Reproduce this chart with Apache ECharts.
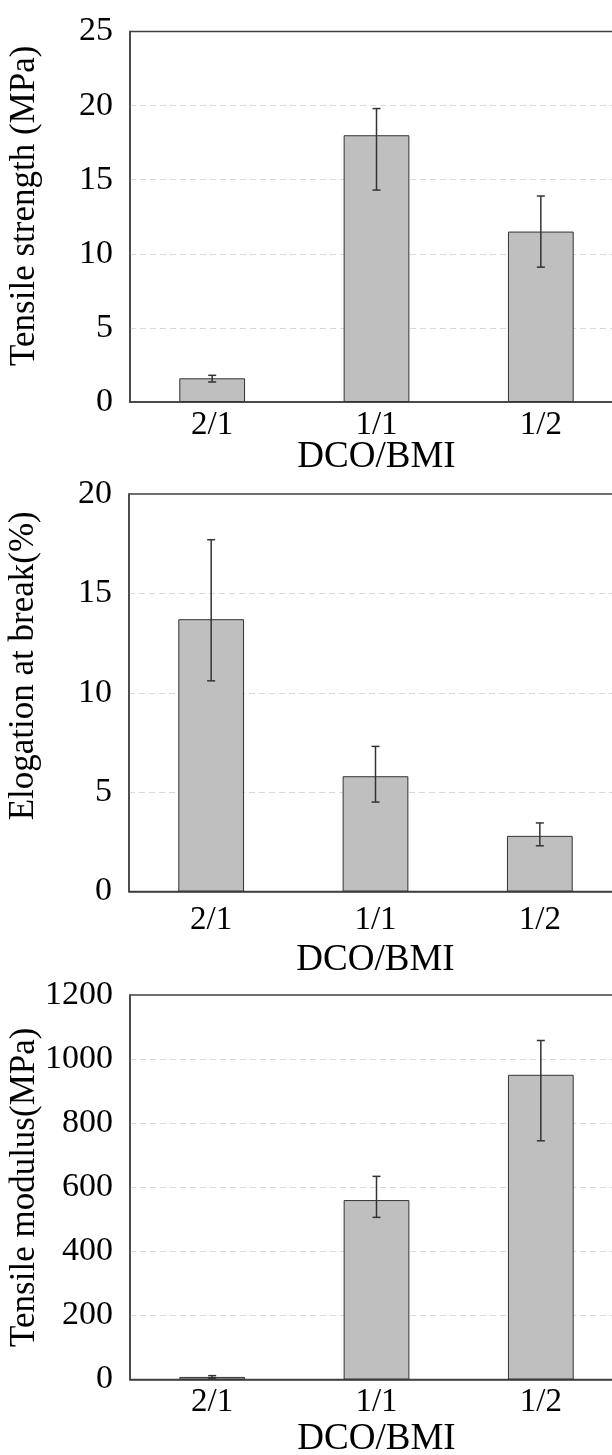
<!DOCTYPE html>
<html>
<head>
<meta charset="utf-8">
<script src="https://cdn.jsdelivr.net/npm/echarts@6/dist/echarts.min.js"></script>
<style>
  html, body { margin: 0; padding: 0; background: #fff; }
  #chart { width: 612px; height: 1455px; }
</style>
</head>
<body>
<div id="chart"></div>
<script>
// DCO/BMI ratios
const categories = ['2/1', '1/1', '1/2']

// tensile strength (MPa) with error bar ends
const strength = [1.6, 18.0, 11.5]
const strengthLow = [1.35, 14.3, 9.1]
const strengthHigh = [1.8, 19.8, 13.9]

// elongation at break (%)
const elongation = [13.7, 5.8, 2.8]
const elongationLow = [10.6, 4.5, 2.3]
const elongationHigh = [17.7, 7.3, 3.45]

// tensile modulus (MPa)
const modulus = [8, 560, 951]
const modulusLow = [4, 506, 745]
const modulusHigh = [12, 634, 1058]

// y axis ranges
const strengthTicks = { max: 25, interval: 5 }
const elongationTicks = { max: 20, interval: 5 }
const modulusTicks = { max: 1200, interval: 200 }

const font = "'Liberation Serif', 'Times New Roman', serif"
const dark = '#404040'

const grids = [
  { left: 130, top: 31.5, width: 493, height: 370.5 },
  { left: 129, top: 494, width: 493, height: 397.5 },
  { left: 130, top: 995, width: 493, height: 384.5 },
].map((g) => ({
  ...g,
  show: true,
  outerBoundsMode: 'none',
  containLabel: false,
  borderColor: dark,
  borderWidth: 1.5,
  backgroundColor: 'transparent',
}))

// per panel spacing of x labels / x title
const xLabelMargin = [7, 12, 6]
const xNameGap = [37, 50, 41]

const xAxes = [0, 1, 2].map((i) => ({
  type: 'category',
  gridIndex: i,
  data: categories,
  name: 'DCO/BMI',
  nameLocation: 'middle',
  nameGap: xNameGap[i],
  nameMoveOverlap: false,
  nameTextStyle: { fontFamily: font, fontSize: 37, color: '#000' },
  axisLine: { lineStyle: { color: dark, width: 1.5 } },
  axisTick: { show: false },
  axisLabel: { fontFamily: font, fontSize: 33, color: '#000', margin: xLabelMargin[i] },
}))

const yNames = ['Tensile strength (MPa)', 'Elogation at break(%)', 'Tensile modulus(MPa)']
const yShift = [22, 54, 0]
const yTicks = [strengthTicks, elongationTicks, modulusTicks]

const yAxes = [0, 1, 2].map((i) => ({
  type: 'value',
  gridIndex: i,
  min: 0,
  max: yTicks[i].max,
  interval: yTicks[i].interval,
  name: yNames[i],
  nameLocation: 'middle',
  nameGap: 88,
  nameMoveOverlap: false,
  nameTextStyle: {
    fontFamily: font,
    fontSize: 35,
    color: '#000',
    padding: [0, 0, 0, yShift[i]],
  },
  axisLine: { show: true, lineStyle: { color: dark, width: 1.5 } },
  axisTick: { show: false },
  axisLabel: {
    fontFamily: font,
    fontSize: 34,
    color: '#000',
    margin: 17,
    formatter: (v) => String(v),
  },
  splitLine: {
    showMinLine: false,
    showMaxLine: false,
    lineStyle: { color: '#d9d9d9', type: [6, 4], width: 1 },
  },
}))

const renderError = (params, api) => {
  const x = api.value(0)
  const lo = api.coord([x, api.value(1)])
  const hi = api.coord([x, api.value(2)])
  const hw = 4
  const style = { stroke: '#333', lineWidth: 1.5 }
  return {
    type: 'group',
    children: [
      { type: 'line', shape: { x1: lo[0], y1: lo[1], x2: hi[0], y2: hi[1] }, style },
      { type: 'line', shape: { x1: hi[0] - hw, y1: hi[1], x2: hi[0] + hw, y2: hi[1] }, style },
      { type: 'line', shape: { x1: lo[0] - hw, y1: lo[1], x2: lo[0] + hw, y2: lo[1] }, style },
    ],
  }
}

const panels = [
  [strength, strengthLow, strengthHigh],
  [elongation, elongationLow, elongationHigh],
  [modulus, modulusLow, modulusHigh],
]

const series = []
panels.forEach(([vals, low, high], i) => {
  series.push({
    type: 'bar',
    xAxisIndex: i,
    yAxisIndex: i,
    data: vals,
    barWidth: '40%',
    itemStyle: { color: '#bfbfbf', borderColor: '#333', borderWidth: 1 },
  })
  series.push({
    type: 'custom',
    xAxisIndex: i,
    yAxisIndex: i,
    renderItem: renderError,
    encode: { x: 0, y: [1, 2] },
    data: categories.map((c, j) => [j, low[j], high[j]]),
    z: 5,
  })
})

const chart = echarts.init(document.getElementById('chart'))
chart.setOption({
  animation: false,
  backgroundColor: '#fff',
  grid: grids,
  xAxis: xAxes,
  yAxis: yAxes,
  series,
})
</script>
</body>
</html>
